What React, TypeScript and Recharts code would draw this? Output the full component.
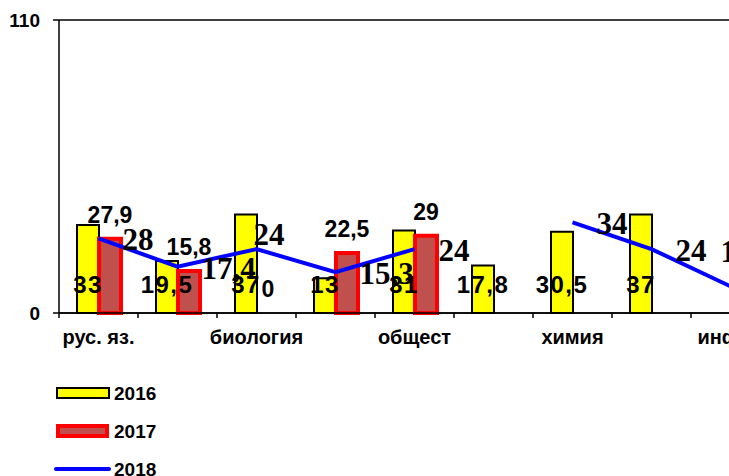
import React from "react";
import {
  Bar,
  CartesianGrid,
  ComposedChart,
  LabelList,
  Legend,
  Line,
  Rectangle,
  XAxis,
  YAxis,
} from "recharts";

const subjects = [
  "рус. яз.",
  "математика",
  "биология",
  "история",
  "общест",
  "литература",
  "химия",
  "физика",
  "инфор",
];
const values2016 = [33, 19.5, 37, 13, 31, 17.8, 30.5, 37, null];
const values2017 = [27.9, 15.8, 0, 22.5, 29, null, null, null, null];
const values2018 = [28, 17.4, 24, 15.3, 24, null, 34, 24, 10];
const yTicks = [0, 110];

const rows = subjects.map((name, i) => ({
  name,
  y2016: values2016[i],
  y2017: values2017[i],
  y2018: values2018[i],
}));

const SANS = "'Liberation Sans', Arial, sans-serif";
const SERIF = "'Liberation Serif', 'Times New Roman', serif";
const PLOT_W = 711;
const HALF_BAND = PLOT_W / subjects.length / 2;

const fmt = (v: number) => String(v).replace(".", ",");

function SubjectTick(props: any) {
  const { x, y, payload, index } = props;
  return (
    <g>
      <line x1={x - HALF_BAND} x2={x - HALF_BAND} y1={y - 5} y2={y} stroke="#000" strokeWidth={1.5} />
      {index % 2 === 0 ? (
        <text x={x} y={y} dy={26} textAnchor="middle" fontFamily={SANS} fontWeight="bold" fontSize={20} fill="#000">
          {payload.value}
        </text>
      ) : null}
    </g>
  );
}

function Label2016(props: any) {
  const { x, y, width, height, value } = props;
  if (value == null) return null;
  return (
    <text
      x={x + width / 2}
      y={y + height - 20}
      textAnchor="middle"
      fontFamily={SANS}
      fontWeight="bold"
      fontSize={24}
      letterSpacing={1.5}
      fill="#000"
    >
      {fmt(value)}
    </text>
  );
}

function Label2017(props: any) {
  const { x, y, width, height, value } = props;
  if (value == null) return null;
  // zero bars get a hair of height so that recharts keeps their label; the label goes from the baseline
  const top = height < 1 ? y + height : y;
  return (
    <text x={x + width / 2} y={top - 16} textAnchor="middle" fontFamily={SANS} fontWeight="bold" fontSize={23} fill="#000">
      {fmt(value)}
    </text>
  );
}

function Bar2017Shape(props: any) {
  if (props.height < 1) return <g />;
  return <Rectangle {...props} />;
}

// labels were hand-placed in the original; two of them sit off the default spot
const lineNudge: Record<number, [number, number]> = { 2: [-27, -16], 8: [-34, -36] };

function Label2018(props: any) {
  const { x, y, value, index } = props;
  if (value == null) return null;
  const [dx, dy] = lineNudge[index] ?? [0, 0];
  return (
    <text x={x + 24 + dx} y={y + 12 + dy} fontFamily={SERIF} fontWeight="bold" fontSize={31} fill="#000">
      {fmt(value)}
    </text>
  );
}

function SeriesLegend(props: any) {
  const items = props.payload ?? [];
  return (
    <svg width={200} height={100} style={{ display: "block" }}>
      {items.map((e: any, i: number) => {
        const cy = 13 + i * 38;
        let mark;
        if (e.dataKey === "y2016") {
          mark = <rect x={57} y={cy - 5} width={52} height={10} fill="#ffff00" stroke="#000" strokeWidth={2} />;
        } else if (e.dataKey === "y2017") {
          mark = <rect x={58} y={cy - 5} width={49} height={10} fill="#c0504d" stroke="#ff0000" strokeWidth={4} />;
        } else {
          mark = <line x1={56} x2={109} y1={cy} y2={cy} stroke="#0000ff" strokeWidth={4} strokeLinecap="round" />;
        }
        return (
          <g key={e.value}>
            {mark}
            <text x={114} y={cy + 7} fontFamily={SANS} fontWeight="bold" fontSize={19} fill="#000">
              {e.value}
            </text>
          </g>
        );
      })}
    </svg>
  );
}

export default function App() {
  return (
    <div style={{ position: "fixed", left: 0, top: 0, width: 729, height: 476, overflow: "hidden", background: "#fff" }}>
      <ComposedChart
        width={780}
        height={476}
        data={rows}
        margin={{ top: 20, right: 10, left: 0, bottom: 123 }}
        barGap={0}
        barSize={22}
      >
        <CartesianGrid horizontal vertical={false} stroke="#000" strokeWidth={1.5} />
        <XAxis
          dataKey="name"
          interval={0}
          height={40}
          tickLine={false}
          tickSize={5}
          tickMargin={0}
          axisLine={{ stroke: "#000", strokeWidth: 1.5 }}
          tick={<SubjectTick />}
        />
        <YAxis
          width={59}
          domain={[0, 110]}
          ticks={yTicks}
          interval={0}
          tickSize={6}
          tickMargin={13}
          axisLine={{ stroke: "#000", strokeWidth: 1.5 }}
          tickLine={{ stroke: "#000", strokeWidth: 1.5 }}
          tick={{ fill: "#000", fontFamily: SANS, fontWeight: "bold", fontSize: 19 }}
        />
        <Legend
          layout="horizontal"
          align="center"
          verticalAlign="middle"
          wrapperStyle={{ top: 380, left: 0, width: 200, height: 100 }}
          content={<SeriesLegend />}
        />
        <Bar dataKey="y2016" name="2016" fill="#ffff00" stroke="#000" strokeWidth={2} isAnimationActive={false}>
          <LabelList dataKey="y2016" content={<Label2016 />} />
        </Bar>
        <Bar
          dataKey="y2017"
          name="2017"
          fill="#c0504d"
          stroke="#ff0000"
          strokeWidth={4}
          minPointSize={(v: any) => (v === 0 ? 0.01 : 0)}
          shape={<Bar2017Shape />}
          isAnimationActive={false}
        >
          <LabelList dataKey="y2017" content={<Label2017 />} />
        </Bar>
        <Line
          dataKey="y2018"
          name="2018"
          stroke="#0000ff"
          strokeWidth={4}
          dot={false}
          activeDot={false}
          connectNulls={false}
          isAnimationActive={false}
        >
          <LabelList dataKey="y2018" content={<Label2018 />} />
        </Line>
      </ComposedChart>
    </div>
  );
}
